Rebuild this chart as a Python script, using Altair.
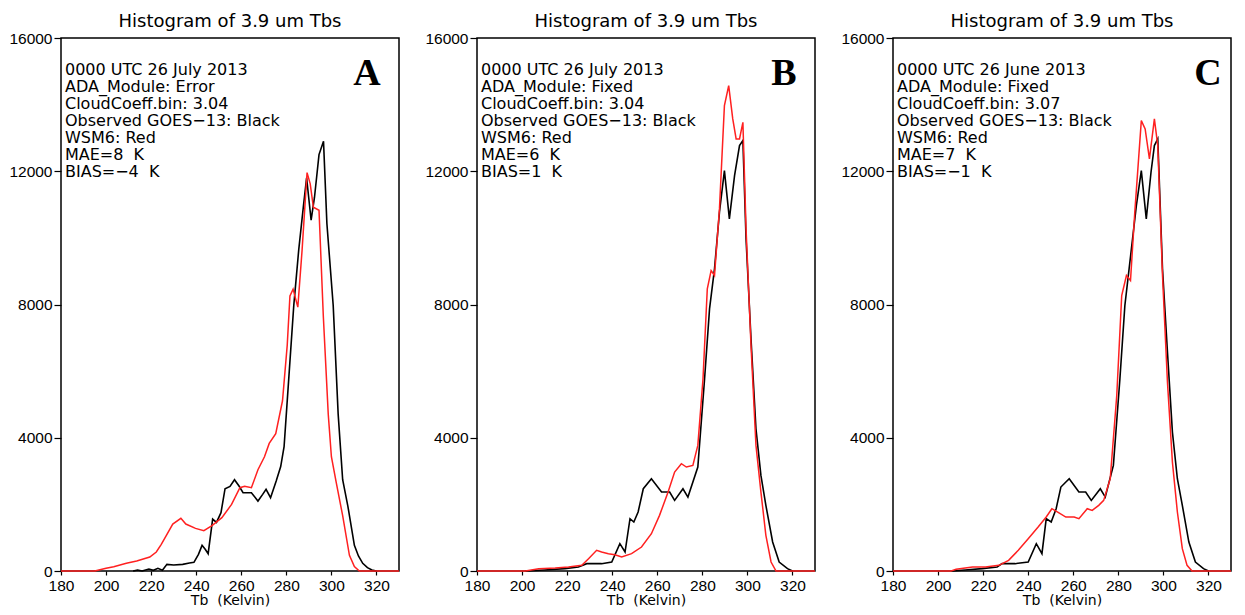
import altair as alt
import pandas as pd

# ---------------- data ----------------
A_obs_T = [212, 214, 216, 219, 221, 223, 225, 227, 230, 234, 237, 239, 241, 242.6, 244, 245.3, 247.3, 249, 251, 252.8,
           255, 257, 259, 260.8, 264.5, 267.4, 269.5, 271, 273, 275.5, 277.5, 279, 281, 283.3, 285.5, 287.5, 289, 291,
           292.5, 294.5, 296.5, 298, 300.8, 303, 305, 307.3, 310.2, 312, 313.9, 316, 318, 320]
A_obs_N = [0, 30, 0, 60, 20, 80, 20, 200, 180, 200, 240, 260, 500, 770, 650, 520, 1560, 1460, 1750, 2470,
           2540, 2740, 2550, 2350, 2350, 2100, 2300, 2450, 2200, 2700, 3135, 3730, 5700, 7970, 9640, 10900, 11800, 10530,
           11220, 12500, 12900, 10430, 7970, 4710, 2740, 1950, 770, 450, 230, 100, 30, 0]
A_wsm_T = [180, 195, 200, 203.4, 209, 213.6, 219.4, 222.3, 224.5, 226.7, 229.6, 233.2, 235.4, 239.7, 243.4, 247, 251.4,
           255.7, 259.4, 261.5, 264.5, 267.4, 270.3, 272.4, 275.3, 278.3, 280.4, 281.6, 283, 285.1, 287, 289.2, 290.6,
           292, 294.5, 296.4, 298.6, 300, 302.2, 305, 308, 310.2, 312.4, 330]
A_wsm_N = [0, 0, 80, 130, 230, 300, 420, 570, 800, 1065, 1410, 1580, 1410, 1280, 1210, 1360, 1600,
           2000, 2500, 2540, 2500, 3040, 3430, 3830, 4120, 5110, 6780, 8260, 8460, 7920, 9640, 11960, 11620,
           10920, 10830, 7670, 4710, 3430, 2640, 1660, 470, 130, 0, 0]

B_obs_T = [201.5, 210, 219, 225, 228.7, 235.3, 239.8, 243.4, 245.7, 247.9, 249.6, 251.5, 253.8, 257.4, 261.9, 265.5,
           267.7, 271.4, 273.6, 278, 281, 283.2, 285.4, 287.6, 289.8, 292, 294.3, 296.5, 298, 299.4, 301.6, 303.8,
           306, 308.2, 311.2, 314.1, 317.8, 320]
B_obs_N = [0, 30, 70, 120, 220, 220, 270, 820, 570, 1570, 1470, 1770, 2470, 2770, 2370, 2370,
           2120, 2470, 2220, 3120, 5770, 7870, 9070, 10770, 12020, 10570, 11870, 12770, 12920, 9970, 6970, 4270,
           2870, 1970, 870, 270, 70, 0]
B_wsm_T = [180, 201.5, 207.4, 214.7, 220.6, 226.5, 229.5, 233.1, 235.3, 238.3, 241.2, 244.2, 248.6, 253, 257.4, 261,
           264.8, 267.7, 270.7, 272.9, 275.8, 278, 280.3, 282.2, 283.9, 285.4, 287.6, 289.8, 291.7, 293.5, 295, 296.5,
           298, 299.4, 301.6, 303.8, 306, 308.2, 310.5, 312.7, 330]
B_wsm_N = [0, 0, 70, 90, 120, 170, 370, 620, 570, 520, 490, 420, 520, 720, 1120, 1670,
           2370, 2970, 3220, 3120, 3170, 3770, 5770, 8470, 9020, 8870, 10870, 13970, 14570, 13570, 12970, 12970,
           13470, 10270, 6770, 3770, 2370, 1070, 270, 0, 0]

C_obs_T = [205.8, 212, 219.6, 226.2, 228.4, 234.2, 240, 243.6, 246.1, 248, 250.2, 252.4, 254.5, 258.2, 262.5, 265.5,
           268, 272, 274.2, 277.8, 280.7, 282.9, 285.8, 288, 290.2, 292.4, 294.5, 296, 297.5, 299.6, 301.8, 304,
           306.2, 308.4, 311.3, 314.2, 317.8, 320]
C_obs_N = [0, 30, 70, 120, 220, 220, 270, 820, 520, 1570, 1470, 1870, 2520, 2770, 2370, 2370,
           2120, 2470, 2220, 3170, 5770, 7970, 9670, 10970, 12020, 10570, 11970, 12770, 12970, 9070, 6570, 4170,
           2770, 1970, 870, 270, 70, 0]
C_wsm_T = [180, 205.8, 208, 215.3, 221, 227, 231.3, 235.6, 240, 244.4, 248, 250.5, 253.1, 256.7, 260.4, 262.5, 266.2,
           268.4, 271.3, 273.5, 276.4, 279.3, 281.5, 283.6, 285.4, 287.3, 290.2, 291.9, 293.8, 296, 297.5, 299.6,
           301.8, 304, 306.2, 308.4, 310.5, 312.7, 330]
C_wsm_N = [0, 0, 50, 120, 120, 170, 320, 620, 970, 1320, 1620, 1870, 1770, 1620, 1620, 1570, 1870,
           1820, 1970, 2120, 2770, 5270, 8270, 8870, 8720, 10770, 13520, 13270, 12370, 13570, 12770, 8870,
           5670, 3270, 1770, 670, 170, 0, 0]

NB2 = "\u00a0\u00a0"
A_notes = ["0000 UTC 26 July 2013", "ADA_Module: Error", "CloudCoeff.bin: 3.04",
           "Observed GOES\u221213: Black", "WSM6: Red", "MAE=8" + NB2 + "K", "BIAS=\u22124" + NB2 + "K"]
B_notes = ["0000 UTC 26 July 2013", "ADA_Module: Fixed", "CloudCoeff.bin: 3.04",
           "Observed GOES\u221213: Black", "WSM6: Red", "MAE=6" + NB2 + "K", "BIAS=1" + NB2 + "K"]
C_notes = ["0000 UTC 26 June 2013", "ADA_Module: Fixed", "CloudCoeff.bin: 3.07",
           "Observed GOES\u221213: Black", "WSM6: Red", "MAE=7" + NB2 + "K", "BIAS=\u22121" + NB2 + "K"]

panel_letters = ["A", "B", "C"]
x_ticks = [180, 200, 220, 240, 260, 280, 300, 320]
y_ticks = [0, 4000, 8000, 12000, 16000]
title_text = "Histogram of 3.9 um Tbs"
x_title = "Tb" + NB2 + "(Kelvin)"

GRADS_FONT = "DejaVu Sans"
W = 338
H = 533


def panel(obs_T, obs_N, wsm_T, wsm_N, notes, letter, letter_x):
    obs = pd.DataFrame({"T": obs_T, "N": obs_N})
    wsm = pd.DataFrame({"T": wsm_T, "N": wsm_N})
    xenc = alt.X("T:Q", scale=alt.Scale(domain=[180, 330], nice=False, zero=False),
                 axis=alt.Axis(values=x_ticks, title=x_title, titleFont=GRADS_FONT, titleFontSize=14,
                               titleFontWeight="normal", titlePadding=0, tickSize=4, labelPadding=3,
                               labelFlush=False))
    yenc = alt.Y("N:Q", scale=alt.Scale(domain=[0, 16000], nice=False),
                 axis=alt.Axis(values=y_ticks, format="d", title=None, tickSize=7, labelPadding=2))
    layers = [
        alt.Chart(obs).mark_line(color="black", strokeWidth=1.6).encode(x=xenc, y=yenc),
        alt.Chart(wsm).mark_line(color="#ff2020", strokeWidth=1.5).encode(x="T:Q", y="N:Q"),
        alt.Chart(pd.DataFrame({"t": [title_text]})).mark_text(
            align="center", baseline="middle", fontSize=18, font=GRADS_FONT, color="black"
        ).encode(text="t:N", x=alt.value(W / 2), y=alt.value(-16)),
    ]
    for i, line in enumerate(notes):
        layers.append(
            alt.Chart(pd.DataFrame({"t": [line]})).mark_text(
                align="left", baseline="middle", fontSize=16, font=GRADS_FONT, color="black"
            ).encode(text="t:N", x=alt.value(4), y=alt.value(32 + 17 * i))
        )
    layers.append(
        alt.Chart(pd.DataFrame({"t": [letter]})).mark_text(
            align="center", baseline="middle", fontSize=38, font="Liberation Serif",
            fontWeight="bold", color="black").encode(text="t:N", x=alt.value(letter_x), y=alt.value(36))
    )
    return alt.layer(*layers).properties(width=W, height=H)


pA = panel(A_obs_T, A_obs_N, A_wsm_T, A_wsm_N, A_notes, "A", 306)
pB = panel(B_obs_T, B_obs_N, B_wsm_T, B_wsm_N, B_notes, "B", 307)
pC = panel(C_obs_T, C_obs_N, C_wsm_T, C_wsm_N, C_notes, "C", 315)

chart = alt.hconcat(
    pA, pB, pC, spacing=78, bounds="flush",
    padding={"top": 4, "left": 0, "right": 0, "bottom": 0}
).configure_view(
    stroke="black", strokeWidth=1.5
).configure_axis(
    grid=False, domain=False, labelFont="Liberation Sans", labelFontSize=15.5, labelColor="black",
    tickColor="black", tickWidth=1.2, titleColor="black"
)

chart.save("out.html", embed_options={"renderer": "svg", "actions": False})
